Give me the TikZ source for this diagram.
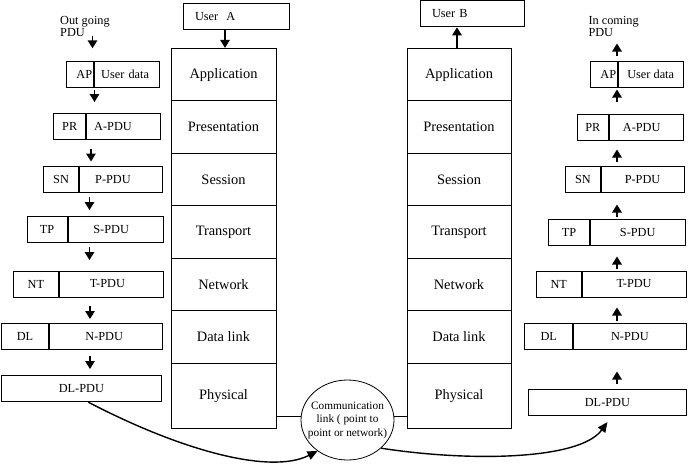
\documentclass[tikz,border=0pt]{standalone}
\usepackage{fontspec}
\setmainfont{Liberation Serif}
\usetikzlibrary{arrows.meta,shapes.geometric}
\begin{document}
\begin{tikzpicture}[x=1pt,y=-1pt,
  layer/.style={draw, line width=0.8pt, minimum width=105pt, minimum height=52.5pt, inner sep=0pt, font=\fontsize{14.4}{17}\selectfont},
  pdubox/.style={draw, line width=0.8pt, minimum height=26pt, inner sep=0pt, font=\fontsize{12.3}{14}\selectfont},
  padl/.style 2 args={text width=#1pt, inner xsep=#2pt, align=left},
  padr/.style 2 args={text width=#1pt, inner xsep=#2pt, align=right},
  arr/.style={line width=1.4pt, -{Triangle[length=8pt,width=9.5pt]}},
  curvearr/.style={line width=1.4pt, -{Triangle[length=10pt,width=9pt]}},
  plain/.style={line width=0.8pt},
  captext/.style={inner sep=0pt, align=left, font=\fontsize{12.3}{11.7}\selectfont}
]
\useasboundingbox (0,0) rectangle (690,466);

% user boxes
\node[pdubox, padl={82}{12}] (userA) at (236,16.3) {User~ A};
\node[pdubox, padl={80}{12}, minimum height=25.3pt] (userB) at (472,13.3) {User B};

% left stack
\node[layer] (la1) at (223.5,74.55) {Application};
\node[layer] (la2) at (223.5,127.05) {Presentation};
\node[layer] (la3) at (223.5,179.55) {Session};
\node[layer] (la4) at (223.5,232.05) {Transport};
\node[layer] (la5) at (223.5,284.55) {Network};
\node[layer] (la6) at (223.5,337.05) {Data link};
\node[layer, minimum height=65pt] (la7) at (223.5,395.8) {Physical};

% right stack
\node[layer, minimum width=104pt] (ra1) at (459,74.55) {Application};
\node[layer, minimum width=104pt] (ra2) at (459,127.05) {Presentation};
\node[layer, minimum width=104pt] (ra3) at (459,179.55) {Session};
\node[layer, minimum width=104pt] (ra4) at (459,232.05) {Transport};
\node[layer, minimum width=104pt] (ra5) at (459,284.55) {Network};
\node[layer, minimum width=104pt] (ra6) at (459,337.05) {Data link};
\node[layer, minimum width=104pt, minimum height=65pt] (ra7) at (459,395.8) {Physical};

% user arrows
\coordinate (ax) at (225,0);
\coordinate (bx) at (457,0);
\draw[arr] (userA.south -| ax) -- (la1.north -| ax);
\draw[arr] (ra1.north -| bx) -- ([yshift=-1pt]userB.south -| bx);

% communication link
\node[draw, ellipse, line width=0.8pt, minimum width=93pt, minimum height=80pt, inner sep=-8pt, align=center, font=\fontsize{11.3}{13.5}\selectfont] (comm) at (347.5,420) {Communication\\link ( point to\\point or network)};
\draw[plain] (comm.175) -- (comm.175 -| la7.east);
\draw[plain] (comm.5) -- (comm.5 -| ra7.west);

% left PDU column (outgoing)
\node[captext, anchor=north west] (outtxt) at (60,16.5) {Out going\\PDU};

\node[pdubox, padr={24.3}{1.5}, anchor=west] (lapH) at (66,74.5) {AP};
\node[pdubox, padl={51}{6.7}, anchor=west] (lapD) at (lapH.east) {User data};
\node[pdubox, minimum width=32pt, anchor=west] (lprH) at (53.3,126.7) {PR};
\node[pdubox, padl={58.6}{7.7}, anchor=west] (lprD) at (lprH.east) {A-PDU};
\node[pdubox, minimum width=34.7pt, anchor=west] (lsnH) at (43.3,179.3) {SN};
\node[pdubox, padl={51.3}{16}, anchor=west] (lsnD) at (lsnH.east) {P-PDU};
\node[pdubox, minimum width=40pt, anchor=west] (ltpH) at (26.7,229.7) {TP};
\node[pdubox, padl={44.6}{25.5}, anchor=west] (ltpD) at (ltpH.east) {S-PDU};
\node[pdubox, minimum width=44.4pt, anchor=west] (lntH) at (13.3,284) {NT};
\node[pdubox, padl={42.8}{30.9}, anchor=west] (lntD) at (lntH.east) {T-PDU};
\node[pdubox, minimum width=47.3pt, anchor=west] (ldlH) at (1,336.5) {DL};
\node[pdubox, padl={40.9}{35.9}, anchor=west] (ldlD) at (ldlH.east) {N-PDU};
\node[pdubox, minimum width=160pt, anchor=west] (ldlpdu) at (1,388.8) {DL-PDU};

\draw[arr] (92.5,36) -- (92.5,48.3);
\draw[arr] (94.5,90) -- (94.5,102);
\draw[arr] (91,149) -- (91,161.5);
\draw[arr] (89.5,197) -- (89.5,210);
\draw[arr] (89.5,247) -- (89.5,260);
\draw[arr] (90,306) -- (90,319);
\draw[arr] (90,356) -- (90,369);

% right PDU column (incoming)
\node[captext, anchor=north west] (intxt) at (588.3,16.5) {In coming\\PDU};

\node[pdubox, padr={24.3}{1.5}, anchor=west] (rapH) at (590,74.5) {AP};
\node[pdubox, minimum width=64.4pt, anchor=west] (rapD) at (rapH.east) {User data};
\node[pdubox, minimum width=31.6pt, anchor=west] (rprH) at (576.7,127) {PR};
\node[pdubox, padl={46.6}{13.4}, anchor=west] (rprD) at (rprH.east) {A-PDU};
\node[pdubox, minimum width=35pt, anchor=west] (rsnH) at (565,179.3) {SN};
\node[pdubox, minimum width=82.7pt, anchor=west] (rsnD) at (rsnH.east) {P-PDU};
\node[pdubox, minimum width=40.7pt, anchor=west] (rtpH) at (548.3,232.2) {TP};
\node[pdubox, minimum width=95pt, anchor=west] (rtpD) at (rtpH.east) {S-PDU};
\node[pdubox, minimum width=44.7pt, anchor=west] (rntH) at (536,284) {NT};
\node[pdubox, minimum width=104.3pt, anchor=west] (rntD) at (rntH.east) {T-PDU};
\node[pdubox, minimum width=48pt, anchor=west] (rdlH) at (524.3,336.7) {DL};
\node[pdubox, minimum width=112.7pt, anchor=west] (rdlD) at (rdlH.east) {N-PDU};
\node[pdubox, minimum width=157.4pt, anchor=west] (rdlpdu) at (528.3,402.2) {DL-PDU};

\draw[arr] (617,56) -- (617,43.5);
\draw[arr] (617,102) -- (617,89.5);
\draw[arr] (617,162) -- (617,149.5);
\draw[arr] (617,217) -- (617,204.5);
\draw[arr] (617,269) -- (617,256.5);
\draw[arr] (617,321) -- (617,307.5);
\draw[arr] (617,384) -- (617,371.5);

% curved transfers
\draw[curvearr] ([xshift=7pt]ldlpdu.south) .. controls (180,450) and (270,475) .. (comm.-134);
\draw[curvearr] (comm.-40) .. controls (470,462) and (580,460) .. ([yshift=-6.5pt]rdlpdu.south);
\end{tikzpicture}
\end{document}
